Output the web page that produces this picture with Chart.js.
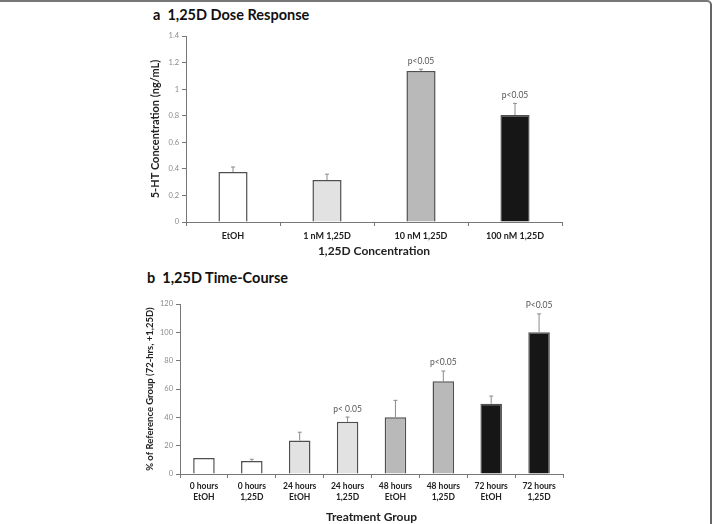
<!DOCTYPE html>
<html>
<head>
<meta charset="utf-8">
<script src="https://cdn.jsdelivr.net/npm/chart.js@4.4.1/dist/chart.umd.min.js"></script>
<style>
  body { margin: 0; background: #fff; }
  #page { position: relative; width: 715px; height: 524px; overflow: hidden; }
  #frame { position: absolute; left: -4px; top: 0; width: 716px; height: 530px;
           border-top: 2px solid #777; border-right: 2px solid #666;
           border-top-right-radius: 5px; box-sizing: border-box; }
  .panel-title { position: absolute; font-family: Lato, sans-serif; font-weight: bold;
                 font-size: 14.5px; color: #111; white-space: pre; }
  canvas { position: absolute; left: 0; }
</style>
</head>
<body>
<div id="page">
  <div id="frame"></div>
  <div class="panel-title" style="left:153px; top:6px;">a  1,25D Dose Response</div>
  <canvas id="doseChart" width="715" height="262" style="top:0;"></canvas>
  <div class="panel-title" style="left:147px; top:269px;">b  1,25D Time-Course</div>
  <canvas id="timeChart" width="715" height="262" style="top:262px;"></canvas>
</div>
<script>
// panel a data
const doseLabels = ['EtOH', '1 nM 1,25D', '10 nM 1,25D', '100 nM 1,25D'];
const doseValues = [0.376, 0.316, 1.136, 0.805];
const doseErrors = [0.038, 0.044, 0.014, 0.088];
const doseNotes = ['', '', 'p<0.05', 'p<0.05'];

// panel b data
const timeLabels = [
    ['0 hours', 'EtOH'], ['0 hours', '1,25D'],
    ['24 hours', 'EtOH'], ['24 hours', '1,25D'],
    ['48 hours', 'EtOH'], ['48 hours', '1,25D'],
    ['72 hours', 'EtOH'], ['72 hours', '1,25D']
];
const timeValues = [11.3, 9.2, 23.6, 36.8, 40.0, 65.4, 49.6, 100.1];
const timeErrors = [0, 1.2, 5.9, 3.4, 12.0, 7.3, 5.4, 12.9];
const timeNotes = ['', '', '', 'p< 0.05', '', 'p<0.05', '', 'P<0.05'];

const doseColors = ['#ffffff', '#e2e2e2', '#b9b9b9', '#161616'];
const timeColors = ['#ffffff', '#ffffff', '#e2e2e2', '#e2e2e2', '#b9b9b9', '#b9b9b9', '#161616', '#161616'];

const FONT = 'Lato, "Liberation Sans", sans-serif';

// draws the upper error whisker and the p-value note above each bar
const errorBarPlugin = {
    id: 'errorBars',
    afterDatasetsDraw(chart, args, opts) {
        const c = chart.ctx;
        const meta = chart.getDatasetMeta(0);
        const y = chart.scales.y;
        c.save();
        meta.data.forEach((bar, i) => {
            const v = opts.values[i];
            const top = y.getPixelForValue(v + opts.errors[i]);
            if (opts.errors[i] > 0) {
                c.strokeStyle = '#8a8a8a';
                c.lineWidth = 1;
                c.beginPath();
                c.moveTo(bar.x, y.getPixelForValue(v));
                c.lineTo(bar.x, top);
                c.moveTo(bar.x - 2, top);
                c.lineTo(bar.x + 2, top);
                c.stroke();
            }
            if (opts.notes[i]) {
                c.fillStyle = '#555';
                c.font = opts.noteSize + 'px ' + FONT;
                c.textAlign = 'center';
                c.textBaseline = 'bottom';
                c.fillText(opts.notes[i], bar.x, top - 4);
            }
        });
        c.restore();
    }
};

function makeChart(id, labels, values, errors, notes, colors, cfg) {
    return new Chart(document.getElementById(id), {
        type: 'bar',
        data: {
            labels: labels,
            datasets: [{
                data: values,
                backgroundColor: colors,
                borderColor: '#4f4f4f',
                borderWidth: 1.5,
                borderSkipped: 'bottom',
                categoryPercentage: 1,
                barPercentage: cfg.barPct
            }]
        },
        options: {
            responsive: false,
            animation: false,
            layout: { padding: cfg.padding },
            plugins: {
                legend: { display: false },
                tooltip: { enabled: false },
                errorBars: { values: values, errors: errors, notes: notes, noteSize: 8.5 }
            },
            scales: {
                x: {
                    afterFit(scale) { scale.height = cfg.xHeight; },
                    grid: { display: true, drawOnChartArea: false, drawTicks: true, tickLength: 4, color: '#777', offset: true },
                    border: { color: '#777', width: 1 },
                    ticks: { color: '#222', padding: cfg.xTickPad, font: { family: FONT, size: cfg.xTickSize, weight: 'bold', lineHeight: 1.25 }, maxRotation: 0, autoSkip: false },
                    title: { display: true, text: cfg.xTitle, color: '#222', padding: { top: 0, bottom: cfg.xTitlePad },
                             font: { family: FONT, size: cfg.xTitleSize, weight: 'bold' } }
                },
                y: {
                    min: cfg.yMin, max: cfg.yMax,
                    afterFit(scale) { scale.width = cfg.yWidth; },
                    grid: { display: true, drawOnChartArea: false, drawTicks: true, tickLength: 4, color: '#777' },
                    border: { color: '#777', width: 1 },
                    ticks: { stepSize: cfg.yStep, color: '#8a8a8a', padding: 3, font: { family: FONT, size: 7.5 },
                             callback: (v) => String(Math.round(v * 10) / 10) },
                    title: { display: true, text: cfg.yTitle, color: '#222', padding: { top: cfg.yTitlePad, bottom: 0 },
                             font: { family: FONT, size: cfg.yTitleSize, weight: 'bold' } }
                }
            }
        },
        plugins: [errorBarPlugin]
    });
}

makeChart('doseChart', doseLabels, doseValues, doseErrors, doseNotes, doseColors, {
    barPct: 0.31,
    padding: { top: 36, left: 145, right: 153, bottom: 0 },
    xHeight: 40, xTickPad: 4, xTickSize: 9, xTitle: '1,25D Concentration', xTitleSize: 12, xTitlePad: 4,
    yWidth: 41, yMin: 0, yMax: 1.4, yStep: 0.2,
    yTitle: '5-HT Concentration (ng/mL)', yTitleSize: 11, yTitlePad: 4
});

makeChart('timeChart', timeLabels, timeValues, timeErrors, timeNotes, timeColors, {
    barPct: 0.45,
    padding: { top: 42, left: 140, right: 152, bottom: 0 },
    xHeight: 50, xTickPad: 3, xTickSize: 8.5, xTitle: 'Treatment Group', xTitleSize: 12, xTitlePad: 0,
    yWidth: 40, yMin: 0, yMax: 120, yStep: 20,
    yTitle: '% of Reference Group (72-hrs, +1,25D)', yTitleSize: 9.5, yTitlePad: 4
});
</script>
</body>
</html>
